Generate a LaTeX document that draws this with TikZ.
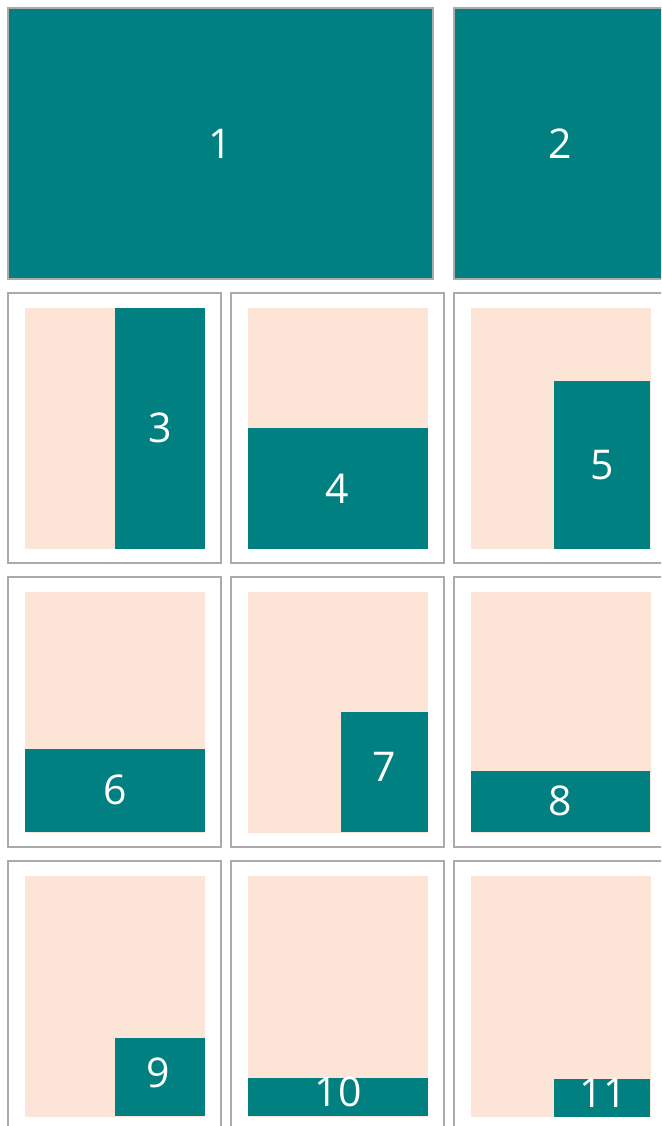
\documentclass[tikz,border=0pt]{standalone}
\usepackage{fontspec}
\setsansfont{Open Sans}
\definecolor{tealfill}{HTML}{008080}
\definecolor{peach}{HTML}{FCE4D6}
\definecolor{framegray}{HTML}{ABABAB}

\begin{document}
\begin{tikzpicture}[x=1pt,y=-1pt,
  frame/.style={draw=framegray,line width=2pt},
  pane/.style={fill=peach},
  block/.style={fill=tealfill},
  num/.style={text=white,inner sep=0pt,font=\sffamily\fontsize{41}{41}\selectfont}]
  \useasboundingbox (0,0) rectangle (661,1126);
  \clip (0,0) rectangle (661,1126);
  % top row
  \draw[frame,fill=tealfill] (8,8) rectangle (433,279);
  \draw[frame,fill=tealfill] (454,8) rectangle (667,279);
  \node[num] (n1) at (220.5,143.5) {1};
  \node[num] (n2) at (560.5,143.5) {2};
  % frames and panes of the 3x3 grid
  \foreach \x in {8,231,454}{
    \foreach \y in {293,577,861}{
      \draw[frame] (\x,\y) rectangle ++(213,270);
      \fill[pane] (\x+17,\y+15) rectangle ++(180,241);
    }
  }
  % teal blocks
  \fill[block] (115,308) rectangle (205,549);
  \fill[block] (248,428) rectangle (428,549);
  \fill[block] (554,381) rectangle (650,549);
  \fill[block] (25,749) rectangle (205,832);
  \fill[block] (341,712) rectangle (428,832);
  \fill[block] (471,771) rectangle (650,832);
  \fill[block] (115,1038) rectangle (205,1116);
  \fill[block] (248,1078) rectangle (428,1116);
  \fill[block] (554,1079) rectangle (650,1117);
  % numbers
  \node[num] (n3) at (160,428) {3};
  \node[num] (n4) at (337.5,488.5) {4};
  \node[num] (n5) at (602,465) {5};
  \node[num] (n6) at (115,790) {6};
  \node[num] (n7) at (384,767) {7};
  \node[num] (n8) at (560,801) {8};
  \node[num] (n9) at (158,1073) {9};
  \node[num] (n10) at (338,1092) {10};
  \node[num] (n11) at (603,1093) {11};
\end{tikzpicture}
\end{document}
